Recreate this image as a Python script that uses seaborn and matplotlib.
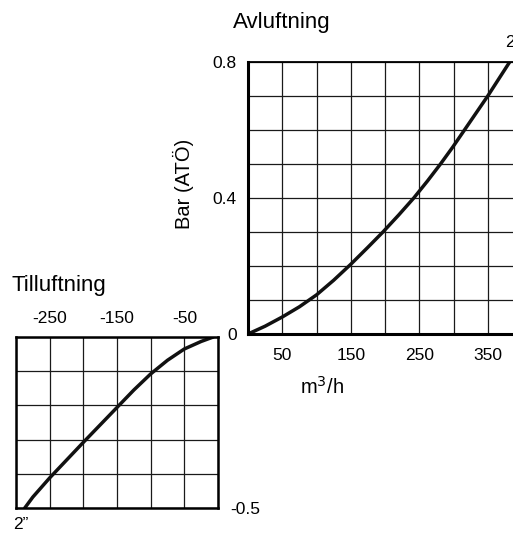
import numpy as np
import pandas as pd
import matplotlib
matplotlib.use("Agg")
import matplotlib.pyplot as plt
import seaborn as sns

# Avluftning curve (m3/h vs bar)
avl_flow = [0, 25, 50, 75, 100, 125, 150, 175, 197, 220, 242, 262, 281, 299, 316, 333, 350, 366, 382]
avl_bar = [0, 0.023, 0.05, 0.08, 0.115, 0.158, 0.205, 0.255, 0.30, 0.35, 0.40, 0.45, 0.50, 0.55,
           0.60, 0.65, 0.70, 0.75, 0.80]

# Tilluftning curve
till_flow = [-7, -25, -50, -75, -100, -125, -150, -175, -200, -225, -250, -275, -287]
till_bar = [0, -0.013, -0.035, -0.068, -0.108, -0.155, -0.206, -0.257, -0.308, -0.36, -0.412, -0.468, -0.50]

avl_labels = {50: "50", 150: "150", 250: "250", 350: "350"}
till_labels = {-250: "-250", -150: "-150", -50: "-50"}

sns.set_style("white")
plt.rcParams['font.family'] = ['Liberation Sans', 'DejaVu Sans']
plt.rcParams['text.color'] = 'black'
plt.rcParams['xtick.color'] = 'black'
plt.rcParams['ytick.color'] = 'black'
plt.rcParams['axes.labelcolor'] = 'black'

W, H = 513, 533
fig = plt.figure(figsize=(W / 100, H / 100), dpi=100)

df_a = pd.DataFrame({"flow": avl_flow, "bar": avl_bar})
df_t = pd.DataFrame({"flow": till_flow, "bar": till_bar})

grid_kw = dict(color="#1a1a1a", linewidth=0.9)
tick_fs = 12.5

# upper chart
ax1 = fig.add_axes([248 / W, 1 - 334 / H, 274 / W, 272 / H])
sns.lineplot(data=df_a, x="flow", y="bar", ax=ax1, color="#111111", linewidth=2.5, sort=False)
ax1.set_xlim(0, 400)
ax1.set_ylim(0, 0.8)
xt = np.arange(0, 401, 50)
ax1.set_xticks(xt)
ax1.set_xticklabels([avl_labels.get(v, "") for v in xt])
yt = np.round(np.arange(0, 0.81, 0.1), 1)
ax1.set_yticks(yt)
ax1.set_yticklabels([{0.0: "0", 0.4: "0.4", 0.8: "0.8"}.get(v, "") for v in yt])
ax1.grid(True, **grid_kw)
ax1.tick_params(length=0, labelsize=tick_fs)
ax1.tick_params(axis="x", pad=10)
ax1.tick_params(axis="y", pad=8)
for s in ax1.spines.values():
    s.set_color("black")
    s.set_linewidth(1.3)
ax1.spines["left"].set_linewidth(2.2)
ax1.spines["bottom"].set_linewidth(2.2)
ax1.set_xlabel("m$^3$/h", fontsize=14.5)
ax1.xaxis.set_label_coords((322 - 248) / 274, -(376 - 334) / 272)
ax1.set_ylabel("Bar (ATÖ)", fontsize=14.5)
ax1.yaxis.set_label_coords((194 - 248) / 274, (334 - 184) / 272)
ax1.text(382, 0.835, "2", fontsize=tick_fs, ha="center", va="bottom")

# lower chart
ax2 = fig.add_axes([16 / W, 1 - 508 / H, 202 / W, 171 / H])
sns.lineplot(data=df_t, x="flow", y="bar", ax=ax2, color="#111111", linewidth=2.5, sort=False)
ax2.set_xlim(-300, 0)
ax2.set_ylim(-0.5, 0)
xt2 = np.arange(-300, 1, 50)
ax2.set_xticks(xt2)
ax2.set_xticklabels([till_labels.get(v, "") for v in xt2])
yt2 = np.round(np.arange(-0.5, 0.01, 0.1), 1)
ax2.set_yticks(yt2)
ax2.set_yticklabels(["-0.5" if v == -0.5 else "" for v in yt2])
ax2.xaxis.tick_top()
ax2.yaxis.tick_right()
ax2.grid(True, **grid_kw)
ax2.tick_params(length=0, labelsize=tick_fs)
ax2.tick_params(axis="x", pad=8)
ax2.tick_params(axis="y", pad=9)
for s in ax2.spines.values():
    s.set_color("black")
    s.set_linewidth(1.8)
ax2.set_xlabel("")
ax2.set_ylabel("")

# titles and small notes
fig.text(233 / W, 1 - 28 / H, "Avluftning", fontsize=16, ha="left", va="baseline")
fig.text(12 / W, 1 - 291 / H, "Tilluftning", fontsize=16, ha="left", va="baseline")
fig.text(13 / W, 1 - 529 / H, "2\u201d", fontsize=tick_fs, ha="left", va="baseline")

fig.savefig("out.png", dpi=100)
